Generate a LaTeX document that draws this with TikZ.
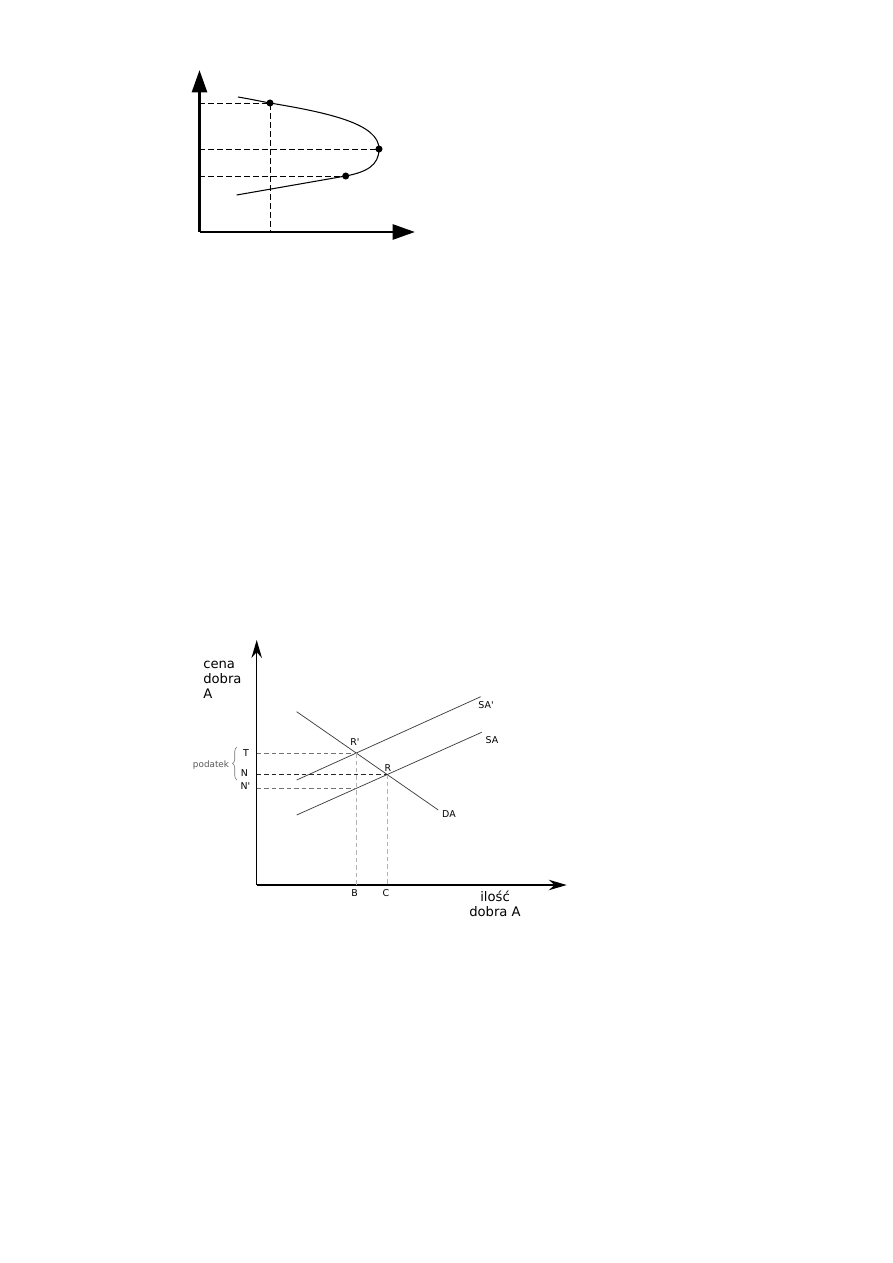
\documentclass[tikz,border=0pt]{standalone}
\usepackage{fontspec}
\newfontfamily\labelfont{DejaVu Sans}
\usetikzlibrary{arrows.meta,decorations.pathreplacing,positioning}

\begin{document}
\begin{tikzpicture}[x=0.0235cm, y=-0.0235cm, >=Stealth,
    every node/.style={font=\labelfont\fontsize{6.3}{8}\selectfont, inner sep=0pt},
    bigaxis/.style={line width=2pt, -{Triangle[length=15pt, width=10pt]}},
    thinaxis/.style={line width=0.9pt, -{Stealth[length=12pt, width=7pt]}},
    guide/.style={dashed, dash pattern=on 4pt off 2pt, line width=0.6pt},
    lightguide/.style={dash pattern=on 3pt off 2pt, line width=0.6pt},
    curveline/.style={line width=0.7pt},
    market/.style={line width=0.5pt, black!75},
    axislabel/.style={font=\labelfont\fontsize{8.8}{10}\selectfont},
    dot/.style={circle, fill, minimum size=4.7pt}]
  \useasboundingbox (0,0) rectangle (893,1263);

  % Upper picture: axes
  \coordinate (o1) at (199.5,232);
  \coordinate (top1) at (199.5,70);
  \coordinate (right1) at (415,232);
  \draw[bigaxis] (o1) -- (top1);
  \draw[bigaxis] (o1) -- (right1);

  % Upper picture: curve and points
  \coordinate (cstart) at (238,97);
  \coordinate (cend) at (236.7,195);
  \node[dot] (p1) at (270,103) {};
  \node[dot] (p2) at (379,149) {};
  \node[dot] (p3) at (345.7,176) {};
  \draw[guide] (o1 |- p1) -- (p1.center) -- (p1 |- o1);
  \draw[guide] (o1 |- p2) -- (p2.center);
  \draw[guide] (o1 |- p3) -- (p3.center);
  \draw[curveline] (cstart) .. controls (250,99) and (259,101) .. (p1.center)
    .. controls (330,113) and (379,124) .. (p2.center)
    .. controls (379,165) and (367,172) .. (p3.center) -- (cend);

  % Lower picture: axes
  \coordinate (o2) at (256.7,885);
  \coordinate (top2) at (256.7,640);
  \coordinate (right2) at (566.7,885);
  \draw[thinaxis] (o2) -- (top2);
  \draw[thinaxis] (o2) -- (right2);
  \node[axislabel, anchor=west, align=left] (price) at (203,680) {cena\\dobra\\A};
  \node[axislabel, align=center] (amount) at (495,904) {ilość\\dobra A};

  % Lower picture: supply and demand
  \coordinate (sap1) at (296.7,780);
  \coordinate (sap2) at (480.7,696.7);
  \coordinate (sa1) at (296.7,815);
  \coordinate (sa2) at (481.7,732.3);
  \coordinate (da1) at (296.7,711.7);
  \coordinate (da2) at (438.3,810);
  \draw[market] (sap1) -- (sap2);
  \draw[market] (sa1) -- (sa2);
  \draw[market] (da1) -- (da2);
  \node (saplabel) at (486,705) {SA'};
  \node (salabel) at (492,740.5) {SA};
  \node (dalabel) at (449,813.7) {DA};

  % Lower picture: equilibria
  \coordinate (rp) at (intersection of sap1--sap2 and da1--da2);
  \coordinate (r) at (intersection of sa1--sa2 and da1--da2);
  \coordinate (b) at (rp |- o2);
  \coordinate (c) at (r |- o2);
  \coordinate (np) at (intersection of sa1--sa2 and rp--b);
  \node (rplabel) at (355,742) {R'};
  \node (rlabel) at (388,768) {R};
  \draw[lightguide, black!55] (o2 |- rp) -- (rp);
  \draw[lightguide, black!85] (o2 |- r) -- (r);
  \draw[lightguide, black!55] (o2 |- np) -- (np);
  \draw[lightguide, black!30] (rp) -- (b);
  \draw[lightguide, black!30] (r) -- (c);
  \node (tlabel) at (246,752.7) {T};
  \node (nlabel) at (244.5,773) {N};
  \node (nplabel) at (245.5,786) {N'};
  \node (blabel) at (354.5,893) {B};
  \node (clabel) at (386,893) {C};

  % Tax brace
  \draw[black!55, line width=0.4pt, decorate, decoration={brace, amplitude=3pt}] (237,780) -- (237,747);
  \node[black!65, font=\labelfont\fontsize{5.9}{7}\selectfont] (tax) at (211,765) {podatek};
\end{tikzpicture}
\end{document}
